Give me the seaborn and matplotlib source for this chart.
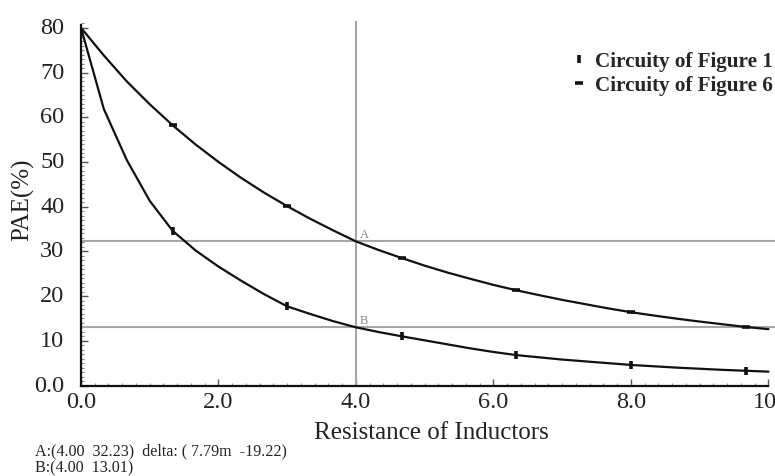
import numpy as np
import pandas as pd
import matplotlib
matplotlib.use("Agg")
import matplotlib.pyplot as plt
from matplotlib.lines import Line2D
from matplotlib.ticker import MultipleLocator, FixedLocator
from matplotlib.transforms import ScaledTranslation
import seaborn as sns

# ---------------- data ----------------
resistance = [0.0, 0.333, 0.667, 1.0, 1.333, 1.667, 2.0, 2.333, 2.667, 3.0,
              3.333, 3.667, 4.0, 4.333, 4.667, 5.0, 5.333, 5.667, 6.0, 6.333,
              6.667, 7.0, 7.333, 7.667, 8.0, 8.333, 8.667, 9.0, 9.333, 9.667, 10.0]
pae_fig6 = [80.0, 73.8, 68.0, 62.9, 58.2, 53.9, 50.0, 46.4, 43.1, 40.1,
            37.3, 34.7, 32.23, 30.28, 28.5, 26.8, 25.25, 23.85, 22.5, 21.3,
            20.2, 19.15, 18.2, 17.25, 16.4, 15.65, 14.95, 14.3, 13.7, 13.1, 12.6]
pae_fig1 = [80.0, 61.8, 50.4, 41.3, 34.6, 30.2, 26.6, 23.4, 20.4, 17.7,
            16.0, 14.4, 13.01, 11.95, 11.0, 10.1, 9.2, 8.3, 7.5, 6.8,
            6.3, 5.8, 5.4, 5.0, 4.6, 4.3, 4.0, 3.75, 3.5, 3.3, 3.1]
series_names = ["Circuity of Figure 1", "Circuity of Figure 6"]
cursor_x = 4.00
cursor_a = 32.23
cursor_b = 13.01
cursor_labels = ["A", "B"]
readout_lines = ["A:(4.00  32.23)  delta: ( 7.79m  -19.22)", "B:(4.00  13.01)"]
x_ticks = [0, 2, 4, 6, 8, 10]
x_ticklabels = ["0.0", "2.0", "4.0", "6.0", "8.0", "10"]
y_ticks = [0, 10, 20, 30, 40, 50, 60, 70, 80]
y_ticklabels = ["0.0", "10", "20", "30", "40", "50", "60", "70", "80"]

df = pd.DataFrame({
    "x": resistance * 2,
    "y": pae_fig1 + pae_fig6,
    "series": [series_names[0]] * len(resistance) + [series_names[1]] * len(resistance),
})

# ---------------- style ----------------
sns.set_theme(style="ticks")
plt.rcParams["font.family"] = ["Liberation Serif", "DejaVu Serif"]

fig = plt.figure(figsize=(7.75, 4.77), dpi=100)
ax = fig.add_axes([0.1045, 0.1897, 0.8955, 0.764])

grey = "#a6a6a6"
ax.axvline(cursor_x, color=grey, lw=1.5, zorder=1)
ax.axhline(cursor_a, color=grey, lw=1.5, zorder=1)
ax.axhline(cursor_b, color=grey, lw=1.5, zorder=1)

styles = {
    series_names[0]: dict(marker="|", ms=5.5, mew=2.6),
    series_names[1]: dict(marker="_", ms=5.5, mew=2.6),
}
for name in series_names:
    sub = df[df["series"] == name]
    sns.lineplot(data=sub, x="x", y="y", ax=ax, color="#111111", lw=1.6,
                 markevery=(4, 5), mec="#111111", mfc="#111111",
                 zorder=3, legend=False, **styles[name])

ax.text(cursor_x + 0.05, cursor_a + 0.4, cursor_labels[0], color="#888888",
        fontsize=9, ha="left", va="bottom")
ax.text(cursor_x + 0.05, cursor_b + 0.3, cursor_labels[1], color="#888888",
        fontsize=9, ha="left", va="bottom")

ax.set_xlim(0, 10.095)
ax.set_ylim(0, 81.5)
ax.spines["top"].set_visible(False)
ax.spines["right"].set_visible(False)
for s in ["left", "bottom"]:
    ax.spines[s].set_linewidth(1.6)
    ax.spines[s].set_color("#111111")
ax.spines["left"].set_bounds(0, 80.6)
ax.spines["bottom"].set_bounds(0, 10)

ax.xaxis.set_major_locator(FixedLocator(x_ticks))
ax.set_xticklabels(x_ticklabels)
ax.yaxis.set_major_locator(FixedLocator(y_ticks))
ax.set_yticklabels(y_ticklabels)
ax.xaxis.set_minor_locator(MultipleLocator(0.2))
ax.yaxis.set_minor_locator(MultipleLocator(1))
ax.tick_params(axis="both", which="major", direction="in", length=5, width=1,
               color="#555555", labelsize=17.5, labelcolor="#222222")
ax.tick_params(axis="both", which="minor", direction="in", length=2.5, width=0.8,
               color="#888888")
ax.tick_params(axis="y", which="major", pad=12)
ax.tick_params(axis="x", which="major", pad=4)
# nudge the last x label so it stays inside the figure, as in the reference
last = ax.get_xticklabels()[-1]
last.set_transform(last.get_transform() + ScaledTranslation(-4 / 100, 0, fig.dpi_scale_trans))
for lab in ax.get_yticklabels():
    lab.set_transform(lab.get_transform() + ScaledTranslation(0, 3 / 100, fig.dpi_scale_trans))

ax.set_xlabel("Resistance of Inductors", fontsize=18, color="#222222")
ax.set_ylabel("PAE(%)", fontsize=18, color="#222222")
ax.xaxis.set_label_coords((431 - 81) / (775 - 81), -(433 - 386.5) / (386.5 - 22))
ax.yaxis.set_label_coords(-(81 - 23) / (775 - 81), (386.5 - 200) / (386.5 - 22))
ax.yaxis.label.set_va("center")
ax.xaxis.label.set_va("center")

handles = [Line2D([], [], ls="none", color="#111111", **styles[n]) for n in series_names]
leg = fig.legend(handles, series_names, loc="upper left",
                 bbox_to_anchor=(574 / 775, 1 - 52 / 477), frameon=False,
                 prop=dict(family=["Liberation Serif"], weight="bold", size=15.2),
                 handlelength=0.5, handletextpad=0.5, labelspacing=0.2,
                 borderaxespad=0, borderpad=0)

fig.text(35 / 775, 1 - 451 / 477, readout_lines[0], fontsize=11.6, color="#222222",
         va="center", ha="left")
fig.text(35 / 775, 1 - 468 / 477, readout_lines[1], fontsize=11.6, color="#222222",
         va="center", ha="left")

fig.savefig("out.png", dpi=100)
